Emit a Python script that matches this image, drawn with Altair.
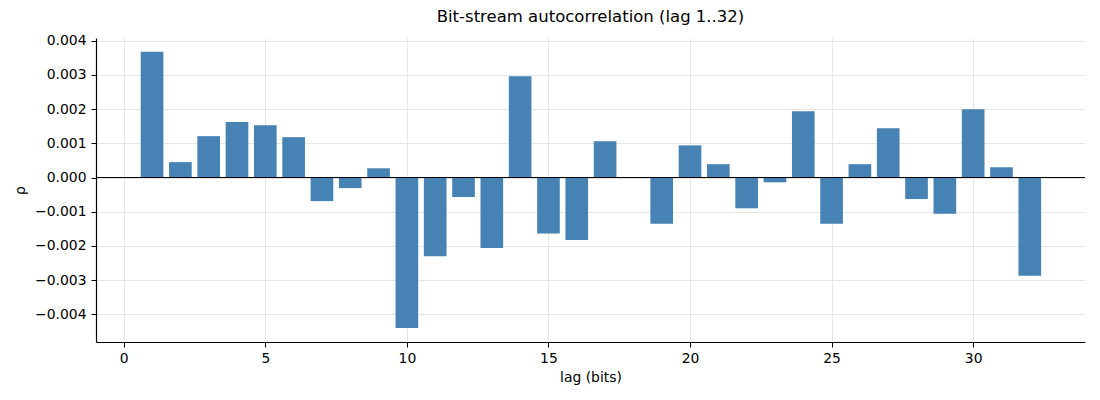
import altair as alt
import pandas as pd

lags = list(range(1, 33))
rho = [0.00368, 0.00045, 0.00121, 0.00162, 0.00153, 0.00118, -0.00069, -0.00031,
       0.00027, -0.00440, -0.00230, -0.00057, -0.00206, 0.00296, -0.00164, -0.00183,
       0.00106, 0.00001, -0.00135, 0.00094, 0.00039, -0.00090, -0.00014, 0.00194,
       -0.00135, 0.00039, 0.00144, -0.00063, -0.00106, 0.00200, 0.00030, -0.00287]
x_ticks = [0, 5, 10, 15, 20, 25, 30]
y_ticks = [-0.004, -0.003, -0.002, -0.001, 0.0, 0.001, 0.002, 0.003, 0.004]

df = pd.DataFrame({"lag": lags, "rho": rho})

FONT = "DejaVu Sans"
xscale = alt.Scale(domain=[-0.98, 33.95], nice=False, zero=False)
yscale = alt.Scale(domain=[-0.00481, 0.00408], nice=False, zero=False)
y_axis = alt.Axis(values=y_ticks, format=".3f", labelPadding=5, titlePadding=7,
                  labelOverlap=False, labelFlush=False)

bars = alt.Chart(df).transform_calculate(
    x0="datum.lag - 0.4", x1="datum.lag + 0.4", base="0"
).mark_bar(color="#4682b4").encode(
    x=alt.X("x0:Q", scale=xscale, title="lag (bits)",
            axis=alt.Axis(values=x_ticks, format="d", labelPadding=4, titlePadding=6,
                          labelOverlap=False, labelFlush=False)),
    x2="x1:Q",
    y=alt.Y("rho:Q", scale=yscale, title="ρ", axis=y_axis),
    y2="base:Q",
)

zero = alt.Chart(pd.DataFrame({"rho": [0.0]})).mark_rule(color="black", strokeWidth=1).encode(
    y=alt.Y("rho:Q", scale=yscale, title="ρ", axis=y_axis)
)

chart = alt.layer(bars, zero).properties(
    width=989, height=304,
    title=alt.TitleParams("Bit-stream autocorrelation (lag 1..32)", font=FONT,
                          fontSize=16.5, fontWeight="normal", color="black", offset=8),
    autosize=alt.AutoSizeParams(type="none"),
    padding={"left": 88, "top": 30, "right": 7, "bottom": 50},
).configure_view(stroke=None).configure_axis(
    domainWidth=1.2, grid=True, gridColor="#e6e6e6", domainColor="black",
    tickColor="black", tickSize=5, labelFontSize=13.9, titleFontSize=13.9,
    labelColor="black", titleColor="black", labelFont=FONT, titleFont=FONT,
    titleFontWeight="normal", labelOverlap=False, labelFlush=False,
)

chart.save("out.html", embed_options={"renderer": "svg", "actions": False})
